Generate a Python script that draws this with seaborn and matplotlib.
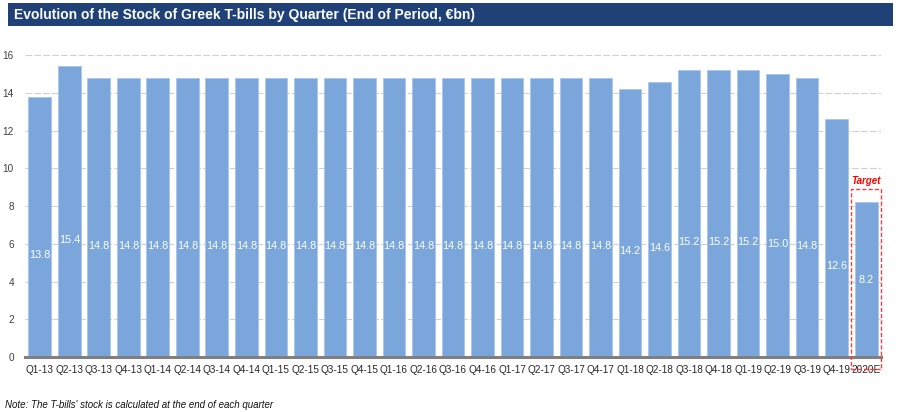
import numpy as np
import pandas as pd
import matplotlib.pyplot as plt
import seaborn as sns
from matplotlib.patches import Rectangle

quarters = ['Q1-13', 'Q2-13', 'Q3-13', 'Q4-13', 'Q1-14', 'Q2-14', 'Q3-14', 'Q4-14',
            'Q1-15', 'Q2-15', 'Q3-15', 'Q4-15', 'Q1-16', 'Q2-16', 'Q3-16', 'Q4-16',
            'Q1-17', 'Q2-17', 'Q3-17', 'Q4-17', 'Q1-18', 'Q2-18', 'Q3-18', 'Q4-18',
            'Q1-19', 'Q2-19', 'Q3-19', 'Q4-19', '2020E']
stock = [13.8, 15.4, 14.8, 14.8, 14.8, 14.8, 14.8, 14.8,
         14.8, 14.8, 14.8, 14.8, 14.8, 14.8, 14.8, 14.8,
         14.8, 14.8, 14.8, 14.8, 14.2, 14.6, 15.2, 15.2,
         15.2, 15.0, 14.8, 12.6, 8.2]
yticks = [0, 2, 4, 6, 8, 10, 12, 14, 16]

sns.set_style('white')
plt.rcParams['font.family'] = ['Liberation Sans', 'DejaVu Sans']

df = pd.DataFrame({'quarter': quarters, 'stock': stock})

fig = plt.figure(figsize=(9, 4.12), dpi=100)
ax = fig.add_axes([0.0278, 0.1335, 0.951, 0.7555])
ax.set_axisbelow(True)

sns.barplot(data=df, x='quarter', y='stock', color='#7BA6DB', saturation=1,
            width=0.77, ax=ax, edgecolor='#A9C6EA', linewidth=0.6)

ax.set_ylim(0, 16.5)
ax.set_xlim(-0.5, len(quarters) - 0.5)
ax.set_yticks(yticks)
ax.yaxis.grid(True, color='#CFCFCF', linestyle=(0, (6, 2)), linewidth=0.8)
ax.set_xlabel('')
ax.set_ylabel('')
for s in ['top', 'right', 'left']:
    ax.spines[s].set_visible(False)
ax.spines['bottom'].set_color('#7F7F7F')
ax.spines['bottom'].set_linewidth(2.2)
ax.spines['bottom'].set_zorder(6)
ax.tick_params(axis='both', length=0, labelsize=7.2, colors='#262626')
ax.tick_params(axis='y', pad=8, labelcolor='#404040')
ax.tick_params(axis='x', pad=6)

for i, v in enumerate(stock):
    ypos = v / 2 if i == len(stock) - 1 else v / 2 - 1.5
    ax.text(i, ypos, f'{v:.1f}', ha='center', va='center', color='white', fontsize=7.8, zorder=4)

# target box around the estimate
last = len(quarters) - 1
ax.add_patch(Rectangle((last - 0.5, -0.63), 1.0, 8.9 + 0.63, fill=False, edgecolor='#FF3B3B',
                       linestyle=(0, (3, 1.5)), linewidth=1, clip_on=False, zorder=7))
ax.text(last, 9.05, 'Target', ha='center', va='bottom', color='#FF0000', fontsize=7,
        fontweight='bold', fontstyle='italic')

# header bar
fig.patches.append(Rectangle((8 / 900, 1 - 26 / 412), 885 / 900, 23 / 412, transform=fig.transFigure,
                             facecolor='#1F4178', edgecolor='none', zorder=0))
fig.text(14 / 900, 1 - 14.5 / 412, 'Evolution of the Stock of Greek T-bills by Quarter (End of Period, €bn)',
         color='white', fontsize=10, fontweight='bold', va='center', ha='left')

fig.text(5 / 900, 1 - 405 / 412, "Note: The T-bills' stock is calculated at the end of each quarter",
         fontsize=7, fontstyle='italic', va='center', ha='left', color='#111111')

fig.savefig('out.png', dpi=100, facecolor='white')
